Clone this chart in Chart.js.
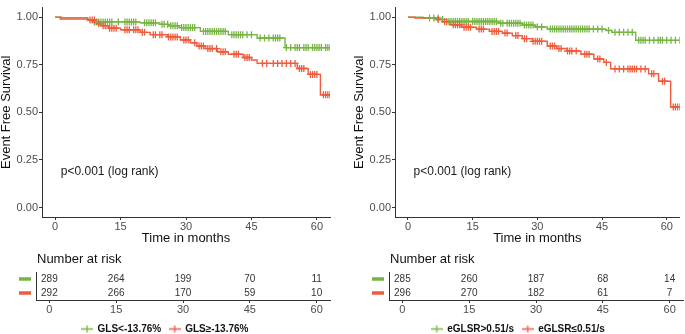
<!DOCTYPE html>
<html><head><meta charset="utf-8">
<script src="https://cdn.jsdelivr.net/npm/chart.js@4"></script>
<style>
html,body{margin:0;padding:0;background:#fff;overflow:hidden}
#wrap{position:relative;width:685px;height:334px;overflow:hidden;background:#fff}
canvas{position:absolute}
</style></head><body>
<div id="wrap">
<canvas id="kmL" width="340" height="248" style="left:0;top:0"></canvas>
<canvas id="kmR" width="332" height="248" style="left:353px;top:0"></canvas>
<canvas id="rkL" width="340" height="96" style="left:0;top:248px"></canvas>
<canvas id="rkR" width="332" height="96" style="left:353px;top:248px"></canvas>
</div>
<script>
// ---------- DATA ----------
const months = [0, 15, 30, 45, 60];
const survTicks = [0, 0.25, 0.5, 0.75, 1];

const nameGlsLow = 'GLS<-13.76%';
const nameGlsHigh = 'GLS\u2265-13.76%';
const nameEglsrHigh = 'eGLSR>0.51/s';
const nameEglsrLow = 'eGLSR\u22640.51/s';

// Left panel, green group (GLS<-13.76%): step times / survival
const glsLowTime = [0, 1.5, 7.5, 8.8, 19.5, 24, 26, 28.5, 33.3, 39.7, 46.3, 52.7, 63];
const glsLowSurv = [1, 0.997, 0.985, 0.975, 0.97, 0.962, 0.955, 0.945, 0.925, 0.908, 0.89, 0.84, 0.84];
const glsLowCens = [9,9.5,10,10.5,11,11.5,12,12.5,13,14.5,16,16.5,17,17.5,18,18.5,20.5,21,21.5,22,22.5,23,24.5,25,25.8,26.5,27,27.5,28,29,29.5,30,30.5,31,31.5,32,34,34.5,35,35.5,36,36.5,37,37.5,38,38.5,39,40.5,41,41.5,42,42.5,43,44,45,47,48,49,50,50.5,51,51.5,53,54,55,55.5,56,57,57.5,58,59,59.5,60,60.5,61,62,62.5,63];

// Left panel, red group (GLS>=-13.76%)
const glsHighTime = [0, 1.2, 7.5, 9.5, 10.5, 12.2, 15, 19.5, 21.8, 25.7, 28.7, 31, 32.5, 34.4, 37.2, 39.7, 43.1, 45, 46.3, 55.5, 58, 60.8, 63];
const glsHighSurv = [1, 0.99, 0.985, 0.965, 0.955, 0.942, 0.933, 0.92, 0.908, 0.896, 0.88, 0.865, 0.848, 0.835, 0.818, 0.805, 0.788, 0.775, 0.757, 0.73, 0.699, 0.592, 0.592];
const glsHighCens = [8,8.5,9,10,11,11.5,12.5,13,13.5,14,16,16.5,17,18,18.5,19,20,20.5,22.5,23,24,24.5,26,26.5,27,27.5,28,29.5,30,30.5,32,33,33.5,34,35,35.5,36,37,38,38.5,39,41,41.5,42,43.5,44,44.5,47.5,48.5,50,51,52,53,54,55,56,56.5,57,58.5,59,59.5,60,61.5,62,62.5,63];

// Right panel, green group (eGLSR>0.51/s)
const eglsrHighTime = [0, 3.5, 7.4, 9, 21, 26.5, 29.5, 32.3, 45.9, 47.3, 52.8, 63];
const eglsrHighSurv = [1, 0.995, 0.988, 0.977, 0.968, 0.958, 0.948, 0.937, 0.93, 0.92, 0.878, 0.878];
const eglsrHighCens = [5,6,7,8,9.5,10,10.5,11,11.5,12,12.5,13,13.5,14,15,15.5,16,16.5,17,17.5,18,18.5,19,19.5,20,20.5,21.5,22,23,23.5,24,24.5,25,25.5,26,27,27.5,28,28.5,29,30,31,33,33.5,34,34.5,35,35.5,36,36.5,37,37.5,38,38.5,39,39.5,40,40.5,41,41.5,42,43,44,45,46.5,48,49,50,51,52,53.5,54,54.5,55,56,57,58,58.5,59,60,61,62,63];

// Right panel, red group (eGLSR<=0.51/s)
const eglsrLowTime = [0, 1.6, 6.7, 8.1, 9.7, 12.4, 15.9, 18.9, 21.9, 24.2, 26.5, 28.8, 32.3, 34.5, 36.9, 40.1, 43.1, 45.4, 47, 55.8, 58.1, 60.9, 63];
const eglsrLowSurv = [1, 0.995, 0.987, 0.976, 0.96, 0.947, 0.937, 0.925, 0.916, 0.903, 0.887, 0.873, 0.848, 0.835, 0.822, 0.805, 0.78, 0.762, 0.728, 0.703, 0.663, 0.528, 0.528];
const eglsrLowCens = [7,8.5,9,10.5,11,11.5,12,13,13.5,14,14.5,16.5,17,17.5,19.5,20,20.5,21,22.5,23,25,25.5,27,27.5,29,29.5,30,30.5,31,33,33.5,34,35,35.5,37,37.5,38,39,41,41.5,42,44,44.5,46,48,49,50,51,51.5,52,52.5,53,54,55,56.5,57,59,59.5,61.5,62,62.5,63];

// Numbers at risk
const riskGlsLow = [289, 264, 199, 70, 11];
const riskGlsHigh = [292, 266, 170, 59, 10];
const riskEglsrHigh = [285, 260, 187, 68, 14];
const riskEglsrLow = [296, 270, 182, 61, 7];

const pText = 'p<0.001 (log rank)';

// ---------- STYLE ----------
const GREEN = '#77B443';
const RED = '#EF5B3D';
const FONT = "'Liberation Sans', Arial, Helvetica, sans-serif";
const AXIS = '#333333';
const TICKTXT = '#4d4d4d';
Chart.defaults.font.family = FONT;

function stepValue(T, S, t) {
  let v = S[0];
  for (let i = 0; i < T.length; i++) { if (T[i] <= t) v = S[i]; else break; }
  return v;
}

function makeSymbol(color) {
  const c = document.createElement('canvas');
  c.width = 12; c.height = 9;
  const g = c.getContext('2d');
  g.strokeStyle = color; g.lineWidth = 1.3;
  g.beginPath();
  g.moveTo(0, 4.5); g.lineTo(12, 4.5);
  g.moveTo(6, 1); g.lineTo(6, 8);
  g.stroke();
  return c;
}

const pvalPlugin = {
  id: 'pval',
  afterDatasetsDraw(chart) {
    const { ctx, scales: { x, y } } = chart;
    ctx.save();
    ctx.font = '12px ' + FONT;
    ctx.fillStyle = '#1a1a1a';
    ctx.textAlign = 'left';
    ctx.textBaseline = 'middle';
    ctx.fillText(pText, x.getPixelForValue(1.3), y.getPixelForValue(0.19));
    ctx.restore();
  }
};

function kmChart(id, groups, padRight) {
  const datasets = [];
  groups.forEach((g, gi) => {
    datasets.push({
      label: g.name,
      data: g.t.map((t, i) => ({ x: t, y: g.s[i] })),
      stepped: true, borderColor: g.color, borderWidth: 1.4,
      pointRadius: 0, fill: false, order: 3 - gi
    });
    datasets.push({
      label: g.name + ' (censored)',
      data: g.c.map(t => ({ x: t, y: stepValue(g.t, g.s, t) })),
      showLine: false, pointStyle: 'cross', pointRadius: 3.5,
      borderColor: g.color, backgroundColor: g.color, borderWidth: 1.3, order: 1 - gi
    });
  });
  return new Chart(document.getElementById(id), {
    type: 'line',
    data: { datasets },
    options: {
      responsive: false, animation: false, events: [],
      layout: { padding: { left: 0, right: padRight, top: 2, bottom: 0 } },
      plugins: { legend: { display: false }, tooltip: { enabled: false } },
      scales: {
        x: {
          type: 'linear', min: -3, max: 63,
          afterBuildTicks: s => { s.ticks = months.map(v => ({ value: v })); },
          afterFit: s => { s.height = 31; },
          grid: { display: true, drawOnChartArea: false, drawTicks: true, tickLength: 3, color: AXIS },
          border: { display: true, color: AXIS, width: 1 },
          ticks: { padding: 0, color: TICKTXT, font: { size: 11 }, maxRotation: 0, autoSkip: false, callback: v => String(v) },
          title: { display: true, text: 'Time in months', color: '#111', font: { size: 13 }, padding: { top: 0, bottom: 2 } }
        },
        y: {
          min: -0.05, max: 1.05,
          afterBuildTicks: s => { s.ticks = survTicks.map(v => ({ value: v })); },
          afterFit: s => { s.width = 42; },
          grid: { display: true, drawOnChartArea: false, drawTicks: true, tickLength: 3, color: AXIS },
          border: { display: true, color: AXIS, width: 1 },
          ticks: { padding: 1, color: TICKTXT, font: { size: 11 }, callback: v => Number(v).toFixed(2) },
          title: { display: true, text: 'Event Free Survival', color: '#111', font: { size: 13, lineHeight: 1 }, padding: { top: 0, bottom: 0 } }
        }
      }
    },
    plugins: [pvalPlugin]
  });
}

const riskPlugin = {
  id: 'risk',
  afterDraw(chart) {
    const { ctx, chartArea } = chart;
    ctx.save();
    chart.data.datasets.forEach((d, di) => {
      const meta = chart.getDatasetMeta(di);
      ctx.font = '10px ' + FONT;
      ctx.fillStyle = '#333';
      ctx.textAlign = 'center';
      ctx.textBaseline = 'middle';
      let yp = chartArea.top;
      meta.data.forEach((el, i) => {
        ctx.fillText(String(d.data[i].n), el.x, el.y);
        yp = el.y;
      });
      ctx.fillStyle = d.color;
      ctx.fillRect(chartArea.left - 17, yp - 1.75, 12, 3.5);
    });
    ctx.font = '13px ' + FONT;
    ctx.fillStyle = '#111';
    ctx.textAlign = 'left';
    ctx.textBaseline = 'middle';
    ctx.fillText('Number at risk', chartArea.left + 1, chartArea.top - 13);
    ctx.restore();
  }
};

function riskChart(id, groups, padRight) {
  const labels = groups.map(g => g.name);
  const datasets = groups.map(g => ({
    label: g.name, color: g.color,
    data: months.map((m, i) => ({ x: m, y: g.name, n: g.risk[i] })),
    pointRadius: 0, showLine: false, borderColor: g.color, backgroundColor: g.color
  }));
  return new Chart(document.getElementById(id), {
    type: 'line',
    data: { datasets },
    options: {
      responsive: false, animation: false, events: [],
      layout: { padding: { left: 0, right: padRight, top: 24, bottom: 0 } },
      plugins: {
        tooltip: { enabled: false },
        legend: {
          display: true, position: 'bottom',
          labels: {
            usePointStyle: true, pointStyleWidth: 11, padding: 8,
            font: { size: 10, weight: 'bold' }, color: '#111',
            generateLabels: chart => chart.data.datasets.map((d, i) => ({
              text: d.label, fillStyle: d.color, strokeStyle: d.color, lineWidth: 0,
              pointStyle: makeSymbol(d.color), hidden: false, datasetIndex: i, fontColor: '#111'
            }))
          }
        }
      },
      scales: {
        x: {
          type: 'linear', min: -3, max: 63,
          afterBuildTicks: s => { s.ticks = months.map(v => ({ value: v })); },
          afterFit: s => { s.height = Math.max(0, s.chart.height - 52 - (s.chart.legend ? s.chart.legend.height : 0)); },
          grid: { display: true, drawOnChartArea: false, drawTicks: true, tickLength: 3, color: AXIS },
          border: { display: true, color: AXIS, width: 1 },
          ticks: { padding: 0, color: TICKTXT, font: { size: 11 }, maxRotation: 0, autoSkip: false, callback: v => String(v) }
        },
        y: {
          type: 'category', labels, offset: true,
          afterFit: s => { s.width = 36; },
          grid: { display: false },
          border: { display: true, color: AXIS, width: 1 },
          ticks: { display: false }
        }
      }
    },
    plugins: [riskPlugin]
  });
}

kmChart('kmL', [
  { name: nameGlsLow, t: glsLowTime, s: glsLowSurv, c: glsLowCens, color: GREEN },
  { name: nameGlsHigh, t: glsHighTime, s: glsHighSurv, c: glsHighCens, color: RED }
], 10);
kmChart('kmR', [
  { name: nameEglsrHigh, t: eglsrHighTime, s: eglsrHighSurv, c: eglsrHighCens, color: GREEN },
  { name: nameEglsrLow, t: eglsrLowTime, s: eglsrLowSurv, c: eglsrLowCens, color: RED }
], 2);
riskChart('rkL', [
  { name: nameGlsLow, risk: riskGlsLow, color: GREEN },
  { name: nameGlsHigh, risk: riskGlsHigh, color: RED }
], 10);
riskChart('rkR', [
  { name: nameEglsrHigh, risk: riskEglsrHigh, color: GREEN },
  { name: nameEglsrLow, risk: riskEglsrLow, color: RED }
], 2);
</script>
</body></html>
